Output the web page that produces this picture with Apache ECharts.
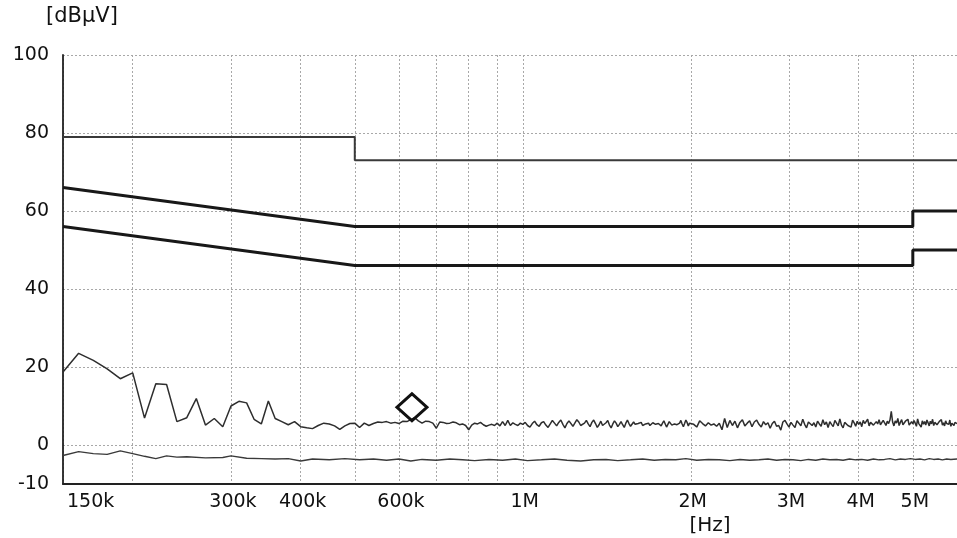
<!DOCTYPE html>
<html>
<head>
<meta charset="utf-8">
<script src="https://cdn.jsdelivr.net/npm/echarts@6/dist/echarts.min.js"></script>
<style>
  html, body { margin: 0; padding: 0; background: #ffffff; }
  #chart { width: 957px; height: 538px; }
</style>
</head>
<body>
<div id="chart"></div>
<script>
// ---- Limit lines (frequency in Hz, level in dBµV) ----
const classAQpFreq  = [150e3, 500e3, 500e3, 6e6];
const classAQpLevel = [79, 79, 73, 73];
const classBQpFreq  = [150e3, 500e3, 5e6, 5e6, 6e6];
const classBQpLevel = [66, 56, 56, 60, 60];
const classBAvFreq  = [150e3, 500e3, 5e6, 5e6, 6e6];
const classBAvLevel = [56, 46, 46, 50, 50];

// ---- Peak detector sweep, three ranges (start and step in kHz) ----
const peakSweepA = { startKHz: 150, stepKHz: 10 };
const peakLevelsA = [
  18.7, 23.5, 21.7, 19.5, 17.0, 18.5, 6.9, 15.7, 15.5, 6.0,
  7.0, 11.9, 5.1, 6.8, 4.7, 10.0, 11.2, 10.8, 6.6, 5.4,
  11.3, 6.8, 6.0, 5.2, 6.0, 4.7, 4.4, 4.2, 5.0, 5.6,
  5.4, 4.9, 4.0, 4.9, 5.5, 5.6, 4.5, 5.6, 5.0, 5.5,
  5.9, 5.8, 6.0, 5.6, 5.8, 5.5, 6.1, 6.0, 6.5, 7.0,
  6.2, 5.6, 6.1, 6.0, 5.6, 4.3, 5.9, 5.8, 5.5, 5.6,
  5.9, 5.7, 5.2, 5.4, 5.0, 3.9, 5.1, 5.6, 5.4, 5.8,
  5.2, 4.8, 5.1, 5.3, 5.0, 5.6, 4.9, 6.0, 5.0, 6.3,
  5.0, 5.7, 5.3, 5.0, 5.6, 5.3
];
const peakSweepB = { startKHz: 1010, stepKHz: 10 };
const peakLevelsB = [
  5.8, 5.0, 4.6, 5.5, 6.1, 5.2, 4.8, 5.7, 6.0, 5.1,
  4.5, 5.4, 6.3, 5.6, 4.9, 5.8, 6.4, 5.3, 4.4, 5.5,
  6.2, 5.7, 4.8, 5.3, 6.5, 5.9, 5.0, 4.6, 5.6, 6.3,
  5.4, 4.7, 5.8, 6.4, 5.5, 4.5, 5.2, 6.1, 5.0, 4.6,
  5.7, 6.3, 5.1, 4.4, 5.4, 6.2, 5.6, 4.7, 5.3, 6.0,
  5.2, 4.5, 5.6, 6.4, 5.5, 4.8, 5.1, 5.9, 5.3, 4.9,
  5.5, 5.2, 5.8, 5.0, 4.7, 5.4, 5.9, 5.6, 5.0, 5.2,
  5.7, 6.1, 5.3, 4.8, 5.5, 5.2, 4.9, 5.6, 6.2, 5.4,
  4.6, 5.3, 6.0, 5.5, 5.1, 4.9, 5.4, 5.8, 5.2, 5.0,
  5.6, 6.3, 5.4, 4.7, 5.5, 6.4, 5.8, 4.9, 5.6, 6.1
];
const peakSweepC = { startKHz: 2025, stepKHz: 25 };
const peakLevelsC = [
  5.3, 4.6, 6.2, 5.5, 4.9, 5.7, 5.1, 5.4, 4.8, 5.6,
  3.9, 6.8, 4.5, 6.3, 5.0, 6.1, 4.4, 5.8, 6.5, 4.9,
  5.6, 6.2, 4.7, 5.9, 6.4, 5.3, 4.6, 6.0, 5.2, 5.7,
  4.3, 5.5, 6.1, 4.8, 5.0, 3.8, 5.9, 6.3, 5.4, 4.6,
  5.8, 5.1, 4.5, 6.2, 5.6, 4.9, 6.6, 5.3, 4.4, 5.9,
  6.4, 5.0, 5.7, 4.6, 6.1, 5.4, 4.8, 6.5, 5.2, 5.9,
  4.5, 6.0, 5.3, 4.7, 6.3, 5.6, 4.9, 6.7, 5.1, 4.4,
  5.8, 6.2, 5.0, 5.5, 4.6, 6.4, 5.7, 4.8, 6.1, 5.3,
  5.9, 4.7, 6.3, 5.5, 5.0, 6.6, 4.9, 5.8, 6.2, 5.1,
  4.6, 6.0, 5.4, 6.5, 5.2, 4.8, 6.3, 5.7, 5.0, 6.1,
  5.5, 6.4, 8.6, 5.9, 4.9, 6.2, 5.6, 6.8, 5.0, 5.8,
  6.5, 5.2, 4.7, 6.1, 5.7, 6.6, 5.1, 4.6, 6.0, 5.4,
  6.3, 5.6, 4.8, 6.7, 5.5, 5.9, 4.6, 6.2, 5.3, 6.0,
  5.1, 6.4, 5.7, 4.9, 6.1, 5.4, 6.6, 5.0, 5.8, 6.3,
  5.2, 4.8, 6.0, 5.6, 6.5, 5.1, 5.7, 4.9, 6.2, 5.5,
  5.9, 5.3, 6.4, 4.8, 5.6, 6.1, 5.0, 5.8, 6.3, 5.5
];

// ---- Average detector trace ----
const avgFreqKHz = [
  150, 160, 170, 180, 190, 200, 210, 220, 230, 240, 250,
  270, 290, 300,
  320, 340, 360, 380, 400, 420,
  450, 480, 510, 540, 570, 600, 630, 660,
  700, 740, 780, 820,
  870, 920, 970, 1020,
  1080, 1140, 1200,
  1270, 1340, 1410, 1480,
  1560, 1640, 1720, 1800, 1880, 1960,
  2050, 2150, 2250, 2350, 2450, 2550, 2650, 2750, 2850, 2950,
  3050, 3150, 3250, 3350, 3450, 3550, 3650, 3750, 3850, 3950,
  4050, 4150, 4250, 4350, 4450, 4550, 4650, 4750, 4850, 4950,
  5050, 5150, 5250, 5350, 5450, 5550, 5650, 5750, 5850,
  6000
];
const avgLevel = [
  -2.7, -1.7, -2.2, -2.4, -1.5, -2.2, -2.9, -3.5, -2.8, -3.1, -3.0,
  -3.3, -3.2, -2.8,
  -3.4, -3.5, -3.6, -3.5, -4.1, -3.6,
  -3.8, -3.5, -3.8, -3.6, -3.9, -3.6, -4.1, -3.7,
  -3.9, -3.6, -3.8, -4.0,
  -3.7, -3.9, -3.6, -4.0,
  -3.8, -3.6, -3.9,
  -4.1, -3.8, -3.7, -4.0,
  -3.8, -3.6, -3.9, -3.7, -3.8, -3.5,
  -3.9, -3.7, -3.8, -4.0, -3.7, -3.9, -3.8, -3.6, -3.9, -3.7,
  -3.8, -4.0, -3.7, -3.9, -3.6, -3.8, -3.7, -3.9, -3.6, -3.8,
  -3.7, -3.9, -3.6, -3.8, -3.7, -3.5, -3.8, -3.6, -3.7, -3.5,
  -3.7, -3.6, -3.8, -3.5, -3.7, -3.6, -3.8, -3.6, -3.7,
  -3.6
];

// ---- Quasi-peak measurement marker ----
const qpMarkFreq  = [633e3];
const qpMarkLevel = [9.7];

// ---- Axis ticks ----
const xGridTicks  = [150e3, 200e3, 300e3, 400e3, 500e3, 600e3, 700e3, 800e3, 900e3, 1e6, 2e6, 3e6, 4e6, 5e6];
const xLabelTicks = [150e3, 300e3, 400e3, 600e3, 1e6, 2e6, 3e6, 4e6, 5e6];
const yGridTicks  = [-10, 0, 20, 40, 60, 80, 100];
const yLabelTicks = [-10, 0, 20, 40, 60, 80, 100];

// ---- Build series data ----
const toPairs = (freqs, levels) => freqs.map((f, i) => [f, levels[i]]);
const sweepPairs = (sweep, levels) =>
  levels.map((v, i) => [(sweep.startKHz + i * sweep.stepKHz) * 1000, v]);
const peakData = [].concat(
  sweepPairs(peakSweepA, peakLevelsA),
  sweepPairs(peakSweepB, peakLevelsB),
  sweepPairs(peakSweepC, peakLevelsC)
);
const avgData = avgFreqKHz.map((f, i) => [f * 1000, avgLevel[i]]);

const FONT = '"DejaVu Sans", "Liberation Sans", sans-serif';
const TEXT = '#111111';
const fmtHz = v => v >= 1e6 ? (Math.round(v / 1e5) / 10) + 'M' : Math.round(v / 1e3) + 'k';

const chart = echarts.init(document.getElementById('chart'), null, { renderer: 'canvas' });

const limitLine = (name, data, width, color) => ({
  name, type: 'line', data, symbol: 'none', silent: true, z: 3,
  lineStyle: { width, color }
});

chart.setOption({
  animation: false,
  backgroundColor: '#ffffff',
  grid: { left: 63, right: 0, top: 55, bottom: 54, containLabel: false, outerBoundsMode: 'none' },
  xAxis: {
    type: 'log',
    logBase: 10,
    min: 150e3,
    max: 6e6,
    axisLine: { show: true, onZero: false, lineStyle: { color: '#222222', width: 1.8 } },
    axisTick: { show: false, customValues: xGridTicks },
    axisLabel: {
      customValues: xLabelTicks,
      formatter: fmtHz,
      margin: 9,
      color: TEXT,
      fontFamily: FONT,
      fontSize: 19,
      alignMinLabel: 'left',
      padding: [0, 0, 0, 4]
    },
    splitLine: { show: true, lineStyle: { color: '#a8a8a8', type: [2, 2], width: 1 } },
    minorTick: { show: false },
    minorSplitLine: { show: false }
  },
  yAxis: {
    type: 'value',
    min: -10,
    max: 100,
    interval: 10,
    axisLine: { show: true, onZero: false, lineStyle: { color: '#222222', width: 1.8 } },
    axisTick: { show: false, customValues: yGridTicks },
    axisLabel: {
      customValues: yLabelTicks,
      margin: 14,
      color: TEXT,
      fontFamily: FONT,
      fontSize: 19
    },
    splitLine: { show: true, lineStyle: { color: '#a8a8a8', type: [2, 2], width: 1 } }
  },
  graphic: [
    {
      type: 'text', x: 82, y: 17,
      style: { text: '[dBµV]', font: '21px "DejaVu Sans", sans-serif', fill: TEXT, align: 'center', verticalAlign: 'middle' }
    },
    {
      type: 'text', x: 710, y: 526,
      style: { text: '[Hz]', font: '20px "DejaVu Sans", sans-serif', fill: TEXT, align: 'center', verticalAlign: 'middle' }
    }
  ],
  series: [
    limitLine('Class A QP', toPairs(classAQpFreq, classAQpLevel), 2, '#3a3a3a'),
    limitLine('Class B QP', toPairs(classBQpFreq, classBQpLevel), 3, '#181818'),
    limitLine('Class B AV', toPairs(classBAvFreq, classBAvLevel), 3, '#181818'),
    {
      name: 'Peak', type: 'line', data: peakData, symbol: 'none', silent: true, z: 4,
      lineStyle: { width: 1.5, color: '#2e2e2e' }
    },
    {
      name: 'Average', type: 'line', data: avgData, symbol: 'none', silent: true, z: 4,
      lineStyle: { width: 1.4, color: '#3a3a3a' }
    },
    {
      name: 'QP', type: 'scatter', data: toPairs(qpMarkFreq, qpMarkLevel),
      symbol: 'diamond', symbolSize: [30, 27], silent: true, z: 5,
      itemStyle: { color: 'rgba(255,255,255,0)', borderColor: '#111111', borderWidth: 3, opacity: 1 }
    }
  ]
});
</script>
</body>
</html>
